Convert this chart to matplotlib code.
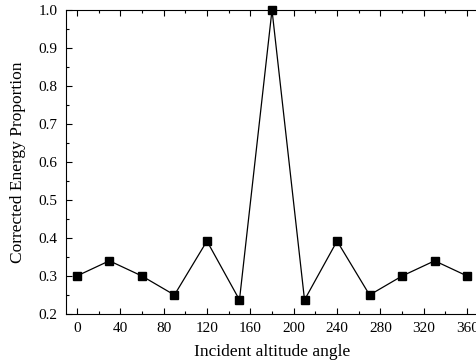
import matplotlib
matplotlib.use("Agg")
import matplotlib.pyplot as plt
from matplotlib.ticker import MultipleLocator

angles = [0, 30, 60, 90, 120, 150, 180, 210, 240, 270, 300, 330, 360]
energy = [0.30, 0.34, 0.30, 0.25, 0.392, 0.237, 1.0, 0.237, 0.392, 0.25, 0.30, 0.34, 0.30]

plt.rcParams['font.family'] = ['Liberation Serif', 'DejaVu Serif']

fig = plt.figure(figsize=(4.77, 3.62), dpi=100)
ax = fig.add_axes([66 / 477, 48 / 362, 412 / 477, 304 / 362])

ax.plot(angles, energy, color='black', lw=0.9, marker='s', ms=5.5, clip_on=False, zorder=3)

ax.set_xlim(-10, 370)
ax.set_ylim(0.2, 1.0)
ax.xaxis.set_major_locator(MultipleLocator(40))
ax.xaxis.set_minor_locator(MultipleLocator(20))
ax.yaxis.set_major_locator(MultipleLocator(0.1))
ax.yaxis.set_minor_locator(MultipleLocator(0.05))
ax.tick_params(which='both', direction='in', top=True, right=False, labelsize=11)
ax.tick_params(which='major', length=4, width=0.8, pad=6)
ax.tick_params(which='minor', length=2.5, width=0.8)
ax.spines['right'].set_visible(False)

ax.set_xlabel('Incident altitude angle', fontsize=12.5, labelpad=6)
ax.set_ylabel('Corrected Energy Proportion', fontsize=12.5, labelpad=9)

fig.savefig('out.png', dpi=100)
